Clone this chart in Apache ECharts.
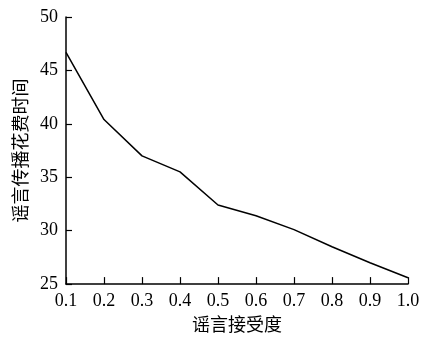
<!DOCTYPE html>
<html>
<head>
<meta charset="utf-8">
<script src="https://cdn.jsdelivr.net/npm/echarts@6/dist/echarts.min.js"></script>
<style>
  html, body { margin: 0; padding: 0; background: #fff; }
  #chart { width: 424px; height: 338px; }
</style>
</head>
<body>
<div id="chart"></div>
<script>
// Rumour acceptance vs. time spent spreading the rumour
const acceptance = [0.1, 0.2, 0.3, 0.4, 0.5, 0.6, 0.7, 0.8, 0.9, 1.0];
const spreadTime = [46.7, 40.4, 37.0, 35.5, 32.4, 31.4, 30.1, 28.5, 27.0, 25.6];
const xTicks = ['0.1', '0.2', '0.3', '0.4', '0.5', '0.6', '0.7', '0.8', '0.9', '1.0'];

const numFont = '"Liberation Serif", "Times New Roman", serif';
const cjkFont = '"Noto Sans CJK SC", sans-serif';

const chart = echarts.init(document.getElementById('chart'), null, { renderer: 'canvas' });
chart.setOption({
  animation: false,
  backgroundColor: '#fff',
  grid: { left: 66, right: 16, top: 17, bottom: 53, containLabel: false },
  xAxis: {
    type: 'value',
    min: 0.1,
    max: 1.0,
    interval: 0.1,
    name: '谣言接受度',
    nameLocation: 'middle',
    nameGap: 30,
    nameTextStyle: { fontFamily: cjkFont, fontSize: 18, color: '#000' },
    axisLine: { show: true, onZero: false, lineStyle: { color: '#000', width: 1.5 } },
    axisTick: { show: true, inside: true, length: 7, lineStyle: { color: '#000', width: 1.2 } },
    axisLabel: {
      color: '#000', fontFamily: numFont, fontSize: 18, margin: 8,
      formatter: function (v) {
        const i = Math.round((v - 0.1) * 10);
        return xTicks[i] !== undefined ? xTicks[i] : '';
      }
    },
    splitLine: { show: false }
  },
  yAxis: {
    type: 'value',
    min: 25,
    max: 50,
    interval: 5,
    name: '谣言传播花费时间',
    nameLocation: 'middle',
    nameGap: 35,
    nameTextStyle: { fontFamily: cjkFont, fontSize: 18, color: '#000' },
    axisLine: { show: true, lineStyle: { color: '#000', width: 1.5 } },
    axisTick: { show: true, inside: true, length: 6, lineStyle: { color: '#000', width: 1.2 } },
    axisLabel: { color: '#000', fontFamily: numFont, fontSize: 18, margin: 8 },
    splitLine: { show: false }
  },
  series: [{
    type: 'line',
    data: acceptance.map((x, i) => [x, spreadTime[i]]),
    showSymbol: false,
    lineStyle: { color: '#000', width: 1.5 },
    clip: false
  }]
});
</script>
</body>
</html>
